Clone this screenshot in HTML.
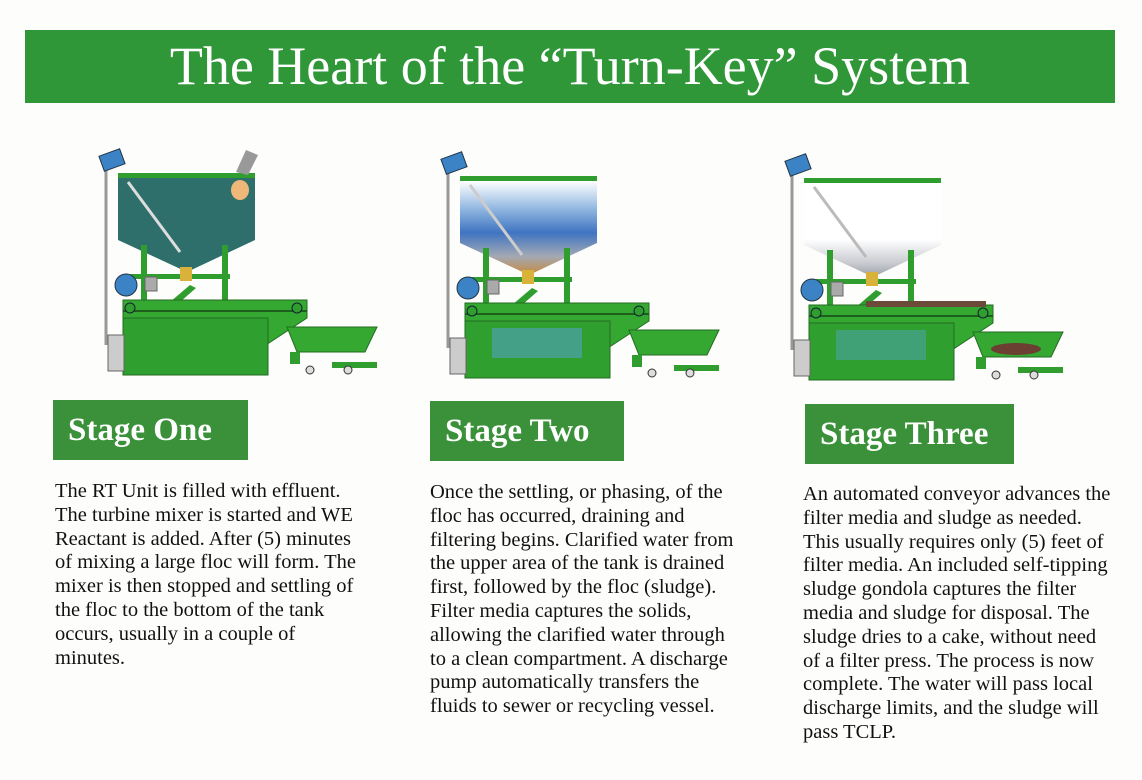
<!DOCTYPE html>
<html><head><meta charset="utf-8"><style>
html,body{margin:0;padding:0;background:#fdfdfb;}
body{width:1142px;height:780px;position:relative;overflow:hidden;font-family:"Liberation Serif",serif;}
.title{position:absolute;left:25px;top:30px;width:1090px;height:73px;background:#2f9738;color:#fff;text-align:center;font-size:54px;line-height:73px;}
.stage{position:absolute;background:#3a9139;color:#fff;font-weight:bold;font-size:33px;line-height:60px;height:60px;padding-left:15px;box-sizing:border-box;}
.txt{position:absolute;font-size:20.5px;line-height:23.8px;color:#111;white-space:nowrap;}
svg{position:absolute;left:0;top:0;}
</style></head><body>
<div class="title">The Heart of the “Turn-Key” System</div>
<svg width="1142" height="780" viewBox="0 0 1142 780">
<defs>
<linearGradient id="g2" x1="0" y1="0" x2="0" y2="1">
<stop offset="0" stop-color="#ffffff"/><stop offset="0.3" stop-color="#8fb6e0"/><stop offset="0.55" stop-color="#3f74c2"/><stop offset="0.8" stop-color="#a3a9b4"/><stop offset="1" stop-color="#c78a3d"/></linearGradient>
<linearGradient id="g3" x1="0" y1="0" x2="0" y2="1">
<stop offset="0" stop-color="#ffffff"/><stop offset="0.6" stop-color="#ffffff"/><stop offset="0.85" stop-color="#c9cbd0"/><stop offset="1" stop-color="#9aa0a8"/></linearGradient>
<g id="frame">
<line x1="106" y1="170" x2="106" y2="345" stroke="#999" stroke-width="3"/>
<rect x="101" y="152" width="22" height="16" fill="#3b83c4" stroke="#234" transform="rotate(-20 112 160)"/>
<rect x="118" y="173" width="137" height="5" fill="#2f9e2f"/>
<rect x="141" y="245" width="6" height="130" fill="#2f9e2f"/>
<rect x="222" y="245" width="6" height="130" fill="#2f9e2f"/>
<rect x="130" y="274" width="100" height="5" fill="#2f9e2f"/>
<circle cx="126" cy="285" r="11" fill="#3b83c4" stroke="#234"/>
<rect x="145" y="277" width="12" height="14" fill="#aaa" stroke="#666"/>
<rect x="180" y="267" width="12" height="14" fill="#d8b23a"/>
<polygon points="170,302 190,285 196,288 180,302" fill="#2f9e2f"/>
<polygon points="123,300 307,300 307,318 240,362 123,375" fill="#35a832" stroke="#236b22"/>
<rect x="123" y="318" width="145" height="57" fill="#2fa02f" stroke="#236b22"/>
<line x1="123" y1="311" x2="307" y2="311" stroke="#1d5e1d" stroke-width="2"/>
<circle cx="130" cy="308" r="5" fill="#2f9e2f" stroke="#123"/>
<circle cx="297" cy="308" r="5" fill="#2f9e2f" stroke="#123"/>
<rect x="108" y="335" width="16" height="36" fill="#ccc" stroke="#666"/>
<polygon points="287,327 377,327 365,352 297,352" fill="#35a832" stroke="#236b22"/>
<rect x="290" y="352" width="10" height="12" fill="#2f9e2f"/>
<rect x="332" y="362" width="45" height="6" fill="#2f9e2f"/>
<circle cx="310" cy="370" r="4" fill="#ddd" stroke="#333"/>
<circle cx="348" cy="370" r="4" fill="#ddd" stroke="#333"/>
</g>
</defs>
<polygon points="118,178 255,178 255,240 187,272 118,240" fill="#2e6f6c"/>
<use href="#frame"/>
<line x1="128" y1="182" x2="180" y2="252" stroke="#ddd" stroke-width="3"/>
<ellipse cx="240" cy="190" rx="9" ry="10" fill="#f0b878"/>
<polygon points="236,172 246,150 258,155 248,175" fill="#999"/>
<g transform="translate(342,3)">
<polygon points="118,178 255,178 255,240 187,272 118,240" fill="url(#g2)"/>
<use href="#frame"/>
<line x1="128" y1="182" x2="180" y2="252" stroke="#ccc" stroke-width="3"/>
<rect x="150" y="325" width="90" height="30" fill="#5aa0e0" opacity="0.5"/>
</g>
<g transform="translate(686,5)">
<polygon points="118,178 255,178 255,240 187,272 118,240" fill="url(#g3)"/>
<use href="#frame"/>
<line x1="128" y1="182" x2="180" y2="252" stroke="#bbb" stroke-width="3"/>
<rect x="150" y="325" width="90" height="30" fill="#5aa0e0" opacity="0.4"/>
<rect x="180" y="296" width="120" height="6" fill="#6b4a3a"/>
<ellipse cx="330" cy="344" rx="25" ry="6" fill="#6b3f32"/>
</g>
</svg>
<div class="stage" style="left:53px;top:400px;width:195px;">Stage One</div>
<div class="stage" style="left:430px;top:401px;width:194px;">Stage Two</div>
<div class="stage" style="left:805px;top:404px;width:209px;">Stage Three</div>
<div class="txt" style="left:55px;top:480px;">The RT Unit is filled with effluent.<br>The turbine mixer is started and WE<br>Reactant is added. After (5) minutes<br>of mixing a large floc will form. The<br>mixer is then stopped and settling of<br>the floc to the bottom of the tank<br>occurs, usually in a couple of<br>minutes.</div>
<div class="txt" style="left:430px;top:481px;">Once the settling, or phasing, of the<br>floc has occurred, draining and<br>filtering begins. Clarified water from<br>the upper area of the tank is drained<br>first, followed by the floc (sludge).<br>Filter media captures the solids,<br>allowing the clarified water through<br>to a clean compartment. A discharge<br>pump automatically transfers the<br>fluids to sewer or recycling vessel.</div>
<div class="txt" style="left:803px;top:483px;">An automated conveyor advances the<br>filter media and sludge as needed.<br>This usually requires only (5) feet of<br>filter media. An included self-tipping<br>sludge gondola captures the filter<br>media and sludge for disposal. The<br>sludge dries to a cake, without need<br>of a filter press. The process is now<br>complete. The water will pass local<br>discharge limits, and the sludge will<br>pass TCLP.</div>
</body></html>
